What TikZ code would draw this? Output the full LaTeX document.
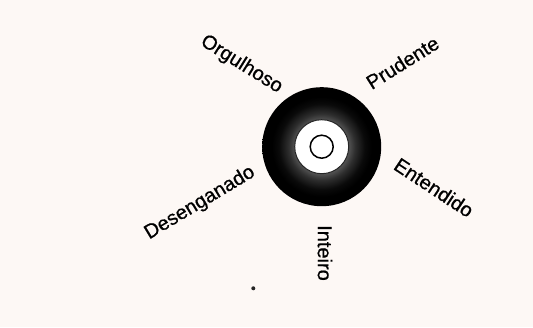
\documentclass[tikz,border=0pt]{standalone}
\usepackage{fontspec}
\setmainfont{Liberation Sans}
\newfontfamily\lblfont[FakeBold=0.7]{Liberation Sans}
\definecolor{paper}{RGB}{253,248,245}
\pgfdeclareradialshading{ringshade}{\pgfpoint{0bp}{0bp}}{%
  color(0bp)=(black!65);
  color(11.4bp)=(black!68);
  color(14bp)=(black!82);
  color(18bp)=(black!96);
  color(21bp)=(black);
  color(50bp)=(black)}
\tikzset{
  lbl/.style={inner sep=0pt, font=\lblfont\fontsize{20}{24}\selectfont},
}
\begin{document}
\begin{tikzpicture}[x=1pt,y=-1pt]
\fill[paper] (0,0) rectangle (533,327);
\useasboundingbox (0,0) rectangle (533,327);
\coordinate (c) at (321.7,146.7);
\shade[shading=ringshade] (c) circle[radius=59.5];
\draw[fill=white, line width=1pt, draw=black!85] (c) circle[radius=27];
\draw[fill=white, line width=1.5pt] (c) circle[radius=11.5];
\node[lbl, rotate=-32] (org) at (241.5,64.5) {Orgulhoso};
\node[lbl, rotate=32] (pru) at (402.5,62.5) {Prudente};
\node[lbl, rotate=-33.5] (ent) at (434,187.5) {Entendido};
\node[lbl, rotate=31] (des) at (200,203) {Desenganado};
\node[lbl, rotate=-90] (int) at (325,253) {Inteiro};
\fill[black!85] (253.3,288.3) circle[radius=2];
\end{tikzpicture}
\end{document}
